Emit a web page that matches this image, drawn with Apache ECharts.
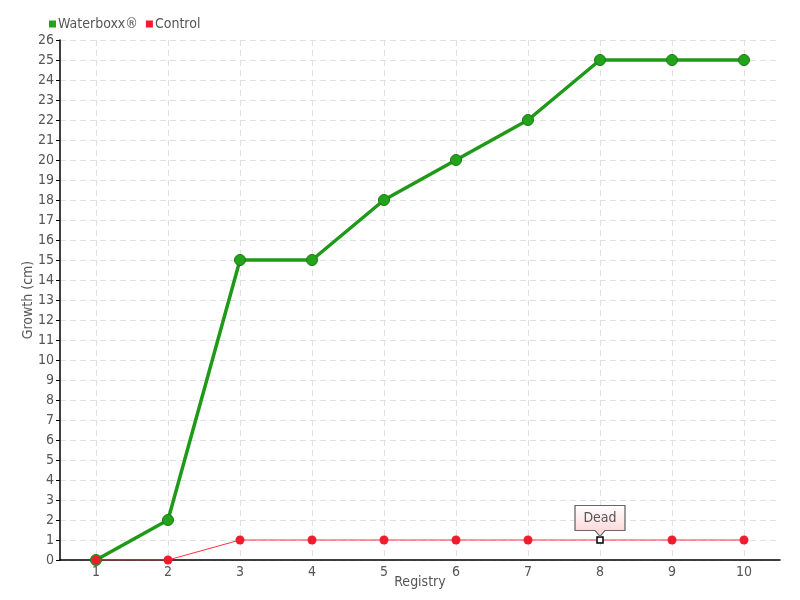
<!DOCTYPE html>
<html><head><meta charset="utf-8">
<script src="https://cdn.jsdelivr.net/npm/echarts@6/dist/echarts.min.js"></script>
<style>html,body{margin:0;padding:0;background:#fff}#c{width:800px;height:600px}</style>
</head><body><div id="c"></div>
<script>
var categories = ['1','2','3','4','5','6','7','8','9','10'];
var waterboxx = [0, 2, 15, 15, 18, 20, 22, 25, 25, 25];
var control = [0, 0, 1, 1, 1, 1, 1, 1, 1, 1];
var deadIndex = 7;
var deadLabel = 'Dead';

var FONT = '"DejaVu Sans Condensed", "Liberation Sans Narrow", sans-serif';
var chart = echarts.init(document.getElementById('c'));
var controlData = control.map(function (v, i) {
  if (i === deadIndex) {
    return { value: v, symbol: 'rect', symbolSize: 6,
      itemStyle: { color: '#fff', borderColor: '#000', borderWidth: 1.5 } };
  }
  return v;
});
chart.setOption({
  animation: false,
  textStyle: { fontFamily: FONT },
  legend: {
    left: 44, top: 12, itemWidth: 7, itemHeight: 7, itemGap: 8,
    icon: 'rect',
    itemStyle: { borderWidth: 0 },
    textStyle: { fontFamily: FONT, fontSize: 14, color: '#555', padding: [0, 0, 0, -3] },
    data: ['Waterboxx®', 'Control']
  },
  grid: { left: 60, right: 20, top: 40, bottom: 40, outerBoundsMode: 'none', containLabel: false },
  xAxis: {
    type: 'category', data: categories, boundaryGap: true,
    name: 'Registry', nameLocation: 'middle', nameGap: 15, nameMoveOverlap: false,
    nameTextStyle: { fontFamily: FONT, fontSize: 14, color: '#555', verticalAlign: 'top' },
    axisLine: { lineStyle: { color: '#000', width: 1.5 } },
    axisTick: { show: false, alignWithLabel: true, interval: 0 },
    axisLabel: { fontFamily: FONT, fontSize: 14, color: '#555', margin: 5, interval: 0 },
    splitLine: { show: true, interval: 0, alignWithLabel: true, lineStyle: { color: '#e0e0e0', type: [6, 4] } }
  },
  yAxis: {
    type: 'value', min: 0, max: 26, interval: 1,
    name: 'Growth (cm)', nameLocation: 'middle', nameGap: 25, nameMoveOverlap: false,
    nameTextStyle: { fontFamily: FONT, fontSize: 14, color: '#555' },
    axisLine: { show: true, lineStyle: { color: '#000', width: 1.5 } },
    axisTick: { show: true, length: 4, lineStyle: { color: '#000' } },
    axisLabel: { fontFamily: FONT, fontSize: 14, color: '#555', margin: 6 },
    splitLine: { show: true, lineStyle: { color: '#e0e0e0', type: [6, 4] } }
  },
  series: [
    {
      name: 'Waterboxx®', type: 'line', data: waterboxx,
      symbol: 'circle', symbolSize: 11,
      color: '#22a31a',
      lineStyle: { color: '#1f9a18', width: 3.5 },
      itemStyle: { color: '#22a31a', borderColor: '#1a7a14', borderWidth: 1 }
    },
    {
      name: 'Control', type: 'line', data: controlData,
      symbol: 'circle', symbolSize: 9,
      color: '#ee1c2e',
      lineStyle: { color: '#ff3040', width: 1 },
      itemStyle: { color: '#ee1c2e' },
      markPoint: {
        data: [{ coord: [deadIndex, control[deadIndex]] }],
        symbol: 'path://M0,0 L50,0 L50,25 L30,25 L25,31 L20,25 L0,25 Z',
        symbolSize: [50, 31],
        symbolOffset: [0, -19],
        itemStyle: {
          color: new echarts.graphic.LinearGradient(0, 0, 0, 1, [
            { offset: 0, color: '#ffffff' }, { offset: 1, color: '#fdd0d4' }
          ]),
          borderColor: '#666', borderWidth: 1
        },
        label: {
          show: true, formatter: deadLabel, position: 'inside', offset: [0, -3],
          fontFamily: FONT, fontSize: 14, color: '#555'
        }
      }
    }
  ]
});
</script></body></html>
